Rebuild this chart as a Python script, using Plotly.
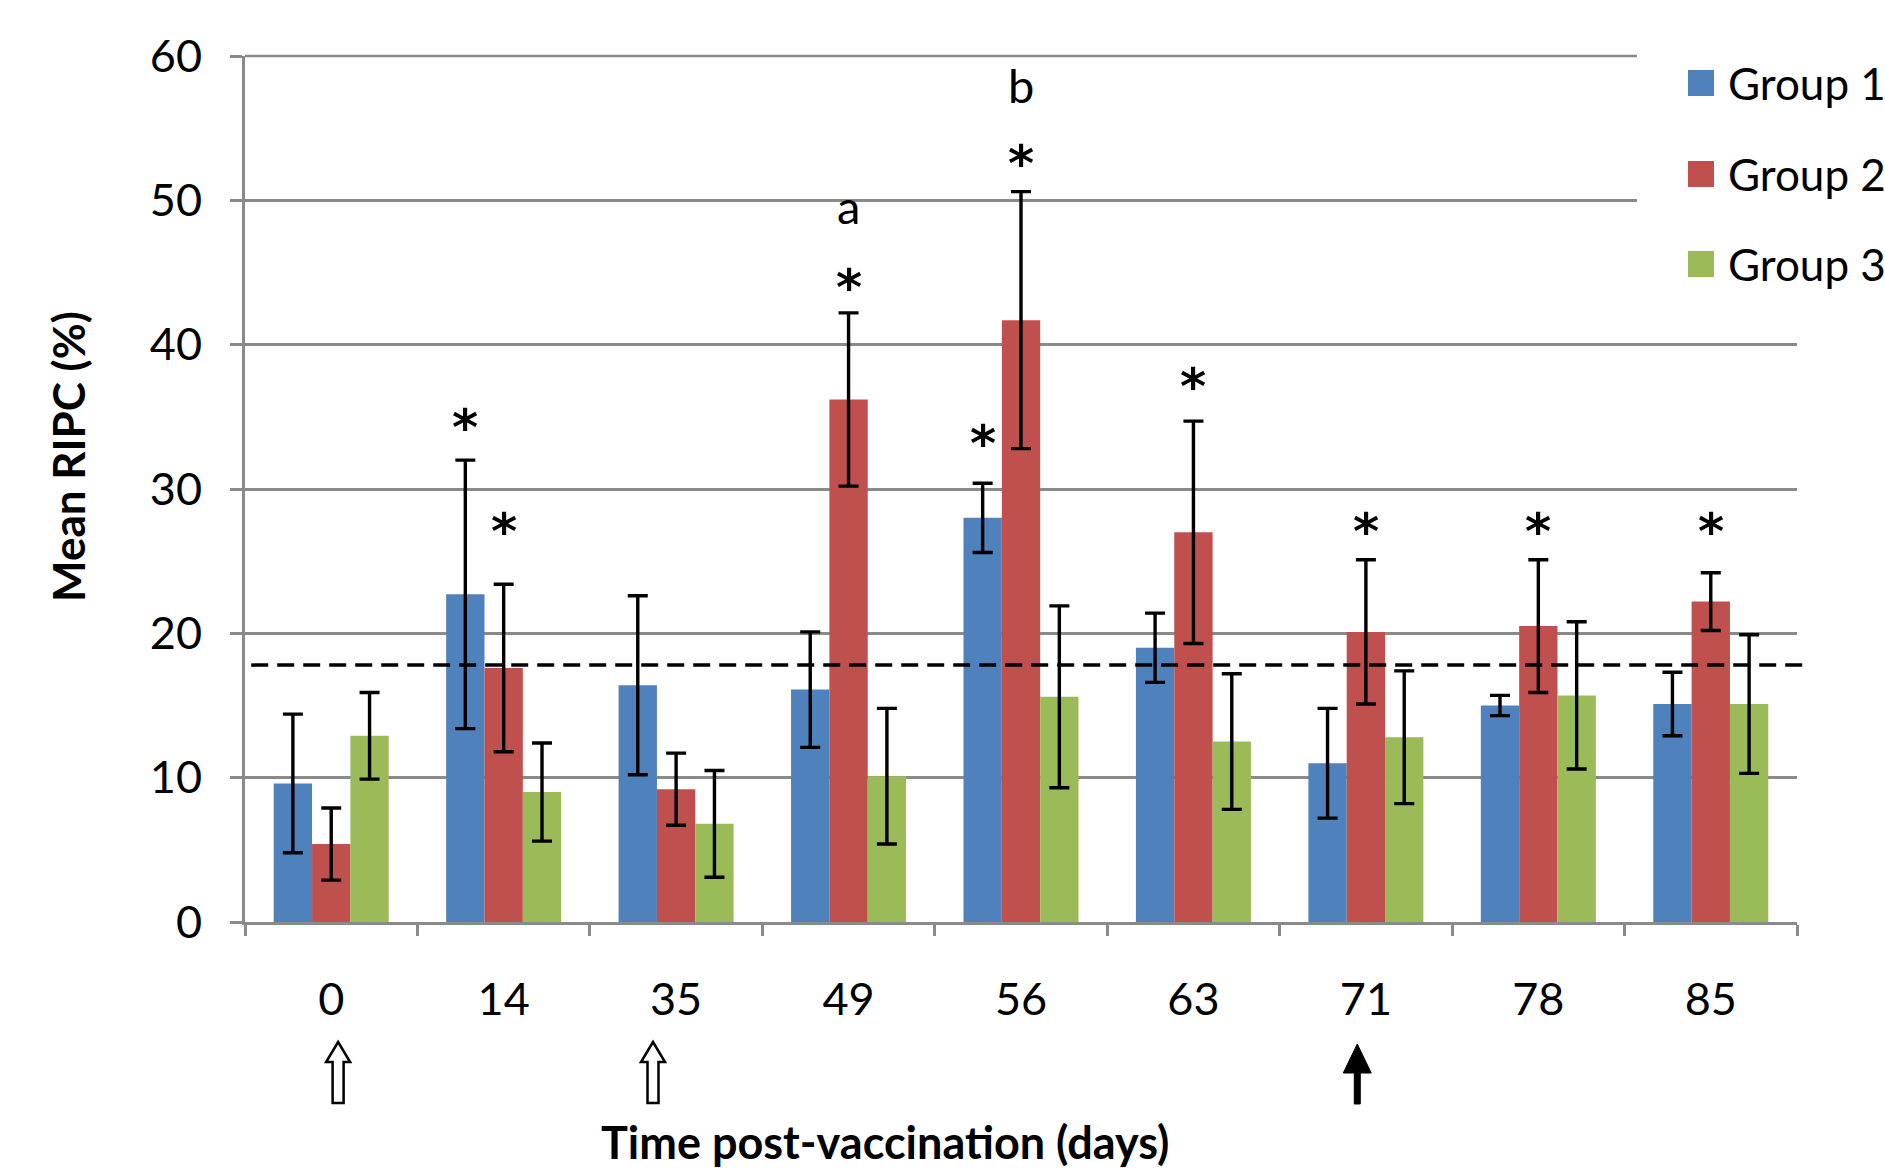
import plotly.graph_objects as go

# ---------------- data ----------------
TIMES = ["0", "14", "35", "49", "56", "63", "71", "78", "85"]
GROUPS = ["Group 1", "Group 2", "Group 3"]

G1_MEAN = [9.6, 22.7, 16.4, 16.1, 28.0, 19.0, 11.0, 15.0, 15.1]
G1_ERR = [4.8, 9.3, 6.2, 4.0, 2.4, 2.4, 3.8, 0.7, 2.2]
G2_MEAN = [5.4, 17.6, 9.2, 36.2, 41.7, 27.0, 20.1, 20.5, 22.2]
G2_ERR = [2.5, 5.8, 2.5, 6.0, 8.9, 7.7, 5.0, 4.6, 2.0]
G3_MEAN = [12.9, 9.0, 6.8, 10.1, 15.6, 12.5, 12.8, 15.7, 15.1]
G3_ERR = [3.0, 3.4, 3.7, 4.7, 6.3, 4.7, 4.6, 5.1, 4.8]

THRESHOLD = 17.8

# significance marks: (time index, group index, label level in %)
STAR_MARKS = [(1, 0, 34.8), (1, 1, 27.6), (3, 1, 44.5), (4, 0, 33.7), (4, 1, 53.1),
              (5, 1, 37.6), (6, 1, 27.6), (7, 1, 27.6), (8, 1, 27.6)]
LETTER_MARKS = [(3, 1, "a", 49.6), (4, 1, "b", 58.0)]

# vaccination arrows: (position on category scale, kind)
ARROWS = [(0.04, "hollow"), (1.866, "hollow"), (5.95, "solid")]

COLORS = ["#4F81BD", "#C0504D", "#9BBB59"]

# ---------------- layout geometry ----------------
W, H = 1885, 1171
ML, MR, MT, MB = 245, 88, 56, 249
PW = W - ML - MR
PH = H - MT - MB
BARGAP = 0.333
BW = (1 - BARGAP) / 3

FONT = "Lato"
FS = 44
GRID = "#8a8a8a"


def px_x(px):
    return (px - ML) / PW


def px_y(py):
    return (H - MB - py) / PH


fig = go.Figure()
for name, mean, err, col in zip(GROUPS, [G1_MEAN, G2_MEAN, G3_MEAN],
                                [G1_ERR, G2_ERR, G3_ERR], COLORS):
    fig.add_trace(go.Bar(
        x=TIMES, y=mean, name=name, marker=dict(color=col, line=dict(width=0)),
        error_y=dict(type="data", array=err, visible=True, color="black",
                     thickness=3.4, width=10),
        showlegend=False,
    ))

shapes = []
# top gridline (at the edge of the plotting area)
shapes.append(dict(type="line", xref="paper", yref="paper", x0=0, x1=1, y0=1, y1=1,
                   layer="below", line=dict(color=GRID, width=2.5)))
# dashed threshold line
shapes.append(dict(type="line", xref="paper", yref="y", x0=0.004, x1=1.007,
                   y0=THRESHOLD, y1=THRESHOLD, layer="above",
                   line=dict(color="black", width=3.5, dash="17px,9px")))

# arrows under the axis
for pos, kind in ARROWS:
    if kind == "hollow":
        path = "M0,-120 L12,-140 L5.5,-140 L5.5,-181 L-5.5,-181 L-5.5,-140 L-12,-140 Z"
        shapes.append(dict(type="path", xref="x", yref="paper", xsizemode="pixel",
                           ysizemode="pixel", xanchor=pos, yanchor=0, path=path,
                           fillcolor="white", line=dict(color="black", width=2.5)))
    else:
        path = "M0,-122 L14,-151 L3,-151 L3,-182 L-3,-182 L-3,-151 L-14,-151 Z"
        shapes.append(dict(type="path", xref="x", yref="paper", xsizemode="pixel",
                           ysizemode="pixel", xanchor=pos, yanchor=0, path=path,
                           fillcolor="black", line=dict(color="black", width=1)))

# legend (white box covering grid, coloured squares)
shapes.append(dict(type="rect", xref="paper", yref="paper",
                   x0=px_x(1637), x1=px_x(1815), y0=px_y(300), y1=px_y(30),
                   fillcolor="white", line=dict(width=0), layer="above"))
LEG_Y = [83, 174, 264]
annotations = []
for name, col, ly in zip(GROUPS, COLORS, LEG_Y):
    shapes.append(dict(type="rect", xref="paper", yref="paper",
                       x0=px_x(1688), x1=px_x(1714), y0=px_y(ly + 13), y1=px_y(ly - 13),
                       fillcolor=col, line=dict(width=0), layer="above"))
    annotations.append(dict(text=name, xref="paper", yref="paper", x=px_x(1726),
                            y=px_y(ly), xanchor="left", yanchor="middle",
                            showarrow=False, font=dict(family=FONT, size=FS, color="black")))

# stars and letters
for ti, g, lvl in STAR_MARKS:
    annotations.append(dict(text="<b>*</b>", xref="x", yref="y", x=ti + (g - 1) * BW, y=lvl,
                            xanchor="center", yanchor="middle", yshift=-8, showarrow=False,
                            font=dict(family="DejaVu Sans", size=50, color="black")))
for ti, g, ch, lvl in LETTER_MARKS:
    annotations.append(dict(text=ch, xref="x", yref="y", x=ti + (g - 1) * BW, y=lvl,
                            xanchor="center", yanchor="middle", showarrow=False,
                            font=dict(family=FONT, size=FS + 3, color="black")))

# axis titles
annotations.append(dict(text="<b>Mean RIPC (%)</b>", xref="paper", yref="paper",
                        x=px_x(68), y=px_y(457), textangle=-90, showarrow=False,
                        xanchor="center", yanchor="middle",
                        font=dict(family=FONT, size=FS, color="black")))
annotations.append(dict(text="<b>Time post-vaccination (days)</b>", xref="paper", yref="paper",
                        x=px_x(885), y=px_y(1142), showarrow=False,
                        xanchor="center", yanchor="middle",
                        font=dict(family=FONT, size=FS + 1, color="black")))

fig.update_layout(
    width=W, height=H,
    margin=dict(l=ML, r=MR, t=MT, b=MB, autoexpand=False),
    paper_bgcolor="white", plot_bgcolor="white",
    barmode="group", bargap=BARGAP, bargroupgap=0,
    showlegend=False,
    shapes=shapes, annotations=annotations,
    font=dict(family=FONT, size=FS, color="black"),
    xaxis=dict(type="category", categoryorder="array", categoryarray=TIMES,
               tickson="boundaries", ticks="outside", ticklen=11, tickwidth=3,
               tickcolor=GRID, showline=True, linecolor=GRID, linewidth=3,
               showgrid=False, zeroline=False, ticklabelstandoff=36,
               tickfont=dict(family=FONT, size=FS + 1, color="black")),
    yaxis=dict(range=[0, 60], dtick=10, tick0=0, showgrid=True, gridcolor=GRID,
               gridwidth=2.5, showline=True, linecolor=GRID, linewidth=3,
               ticks="outside", ticklen=12, tickwidth=2.5, tickcolor=GRID,
               zeroline=False, ticklabelstandoff=19,
               tickfont=dict(family=FONT, size=FS + 1, color="black")),
)

fig.write_html("out.html")
